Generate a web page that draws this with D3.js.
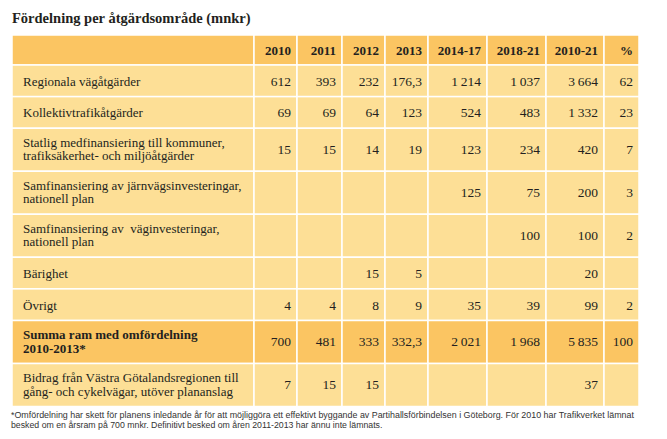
<!DOCTYPE html>
<html>
<head>
<meta charset="utf-8">
<script src="https://cdn.jsdelivr.net/npm/d3@7"></script>
<style>
  body { margin: 0; background: #fff; }
  svg { display: block; }
  .serif { font-family: "Liberation Serif", "DejaVu Serif", "Times New Roman", serif; }
  .note { font-family: "Liberation Sans Narrow", "Liberation Sans", sans-serif; }
</style>
</head>
<body>
<div id="table"></div>
<script>
// table content
var title = "Fördelning per åtgärdsområde (mnkr)";
var columns = ["2010", "2011", "2012", "2013", "2014-17", "2018-21", "2010-21", "%"];
var rowLabels = [
  ["Regionala vägåtgärder"],
  ["Kollektivtrafikåtgärder"],
  ["Statlig medfinansiering till kommuner,", "trafiksäkerhet- och miljöåtgärder"],
  ["Samfinansiering av järnvägsinvesteringar,", "nationell plan"],
  ["Samfinansiering av  väginvesteringar,", "nationell plan"],
  ["Bärighet"],
  ["Övrigt"],
  ["Summa ram med omfördelning", "2010-2013*"],
  ["Bidrag från Västra Götalandsregionen till", "gång- och cykelvägar, utöver plananslag"]
];
var regionalaVag    = [612, 393, 232, 176.3, 1214, 1037, 3664, 62];
var kollektivtrafik = [69, 69, 64, 123, 524, 483, 1332, 23];
var statligMedfin   = [15, 15, 14, 19, 123, 234, 420, 7];
var samfinJarnvag   = [null, null, null, null, 125, 75, 200, 3];
var samfinVag       = [null, null, null, null, null, 100, 100, 2];
var barighet        = [null, null, 15, 5, null, null, 20, null];
var ovrigt          = [4, 4, 8, 9, 35, 39, 99, 2];
var summa           = [700, 481, 333, 332.3, 2021, 1968, 5835, 100];
var bidragVGR       = [7, 15, 15, null, null, null, 37, null];
var footnote = [
  "*Omfördelning har skett för planens inledande år för att möjliggöra ett effektivt byggande av Partihallsförbindelsen i Göteborg. För 2010 har Trafikverket lämnat",
  "besked om en årsram på 700 mnkr. Definitivt besked om åren 2011-2013 har ännu inte lämnats."
];

var rowValues = [regionalaVag, kollektivtrafik, statligMedfin, samfinJarnvag,
                 samfinVag, barighet, ovrigt, summa, bidragVGR];
var totalRow = 7;

var svgWidth = 667;
var svgHeight = 439;

var headColor = "#fbc562";
var bodyColor = "#fddf96";
var ink = "#231f20";

// swedish number format: thin space thousands, comma decimal
var sv = d3.formatLocale({ decimal: ",", thousands: "\u2009", grouping: [3], currency: ["", " kr"] });
var fmtInt = sv.format(",d");
var fmtDec = sv.format(",.1f");
function fmt(v) {
  if (v == null) return "";
  return Number.isInteger(v) ? fmtInt(v) : fmtDec(v);
}

var svg = d3.select("#table")
  .append("svg")
  .attr("width", svgWidth)
  .attr("height", svgHeight);

// column edges (label column + 8 value columns)
var colEdges = [12, 254, 297, 342, 385, 428, 487, 546, 604, 639];
var xScale = d3.scaleLinear()
  .domain(d3.range(colEdges.length))
  .range(colEdges);

// row heights follow the number of text lines
var weights = rowLabels.map(d => d.length > 1 ? 1.36 : 1);
var cum = [0];
weights.forEach(function(w, i) { cum.push(cum[i] + w); });
var headerTop = 35, headerBottom = 65;
var yScale = d3.scaleLinear()
  .domain([0, cum[cum.length - 1]])
  .range([headerBottom, 406.5]);

// title
svg.append("text")
  .attr("class", "serif")
  .attr("x", 12)
  .attr("y", 23)
  .attr("font-weight", "bold")
  .attr("font-size", "14.5px")
  .attr("fill", ink)
  .text(title);

// header row
var header = svg.append("g");
header.selectAll("rect")
  .data(d3.range(colEdges.length - 1))
  .enter()
  .append("rect")
  .attr("x", i => xScale(i))
  .attr("y", headerTop)
  .attr("width", i => xScale(i + 1) - xScale(i))
  .attr("height", headerBottom - headerTop)
  .attr("fill", headColor)
  .attr("stroke", "#fff")
  .attr("stroke-width", 1.5);

header.selectAll("text")
  .data(columns)
  .enter()
  .append("text")
  .attr("class", "serif")
  .attr("x", (d, i) => xScale(i + 2) - 6)
  .attr("y", (headerTop + headerBottom) / 2 + 5)
  .attr("text-anchor", "end")
  .attr("font-weight", "bold")
  .attr("font-size", "13px")
  .attr("fill", ink)
  .text(d => d);

// body rows
var rows = svg.selectAll("g.row")
  .data(rowLabels)
  .enter()
  .append("g")
  .attr("class", "row");

rows.each(function(lines, r) {
  var g = d3.select(this);
  var y0 = yScale(cum[r]);
  var y1 = yScale(cum[r + 1]);
  var cy = (y0 + y1) / 2;
  var fill = r === totalRow ? headColor : bodyColor;

  g.selectAll("rect")
    .data(d3.range(colEdges.length - 1))
    .enter()
    .append("rect")
    .attr("x", i => xScale(i))
    .attr("y", y0)
    .attr("width", i => xScale(i + 1) - xScale(i))
    .attr("height", y1 - y0)
    .attr("fill", fill)
    .attr("stroke", "#fff")
    .attr("stroke-width", 1.5);

  var label = g.append("text")
    .attr("class", "serif")
    .attr("x", 23)
    .attr("font-weight", r === totalRow ? "bold" : "normal")
    .attr("font-size", "13px")
    .attr("fill", ink)
    .style("white-space", "pre");

  label.selectAll("tspan")
    .data(lines)
    .enter()
    .append("tspan")
    .attr("x", 23)
    .attr("y", (d, i) => lines.length > 1 ? cy - 3 + i * 13.6 : cy + 5)
    .text(d => d);

  g.selectAll("text.val")
    .data(rowValues[r])
    .enter()
    .append("text")
    .attr("class", "val serif")
    .attr("x", (d, i) => xScale(i + 2) - 6)
    .attr("y", lines.length > 1 ? cy + 4.5 : cy + 5)
    .attr("text-anchor", "end")
    .attr("font-size", "13.5px")
    .attr("fill", ink)
    .text(d => fmt(d));
});

// footnote, squeezed horizontally to the printed line widths
var noteWidths = [624, 372];
svg.append("g")
  .selectAll("text")
  .data(footnote)
  .enter()
  .append("text")
  .attr("class", "note")
  .attr("font-size", "9.5px")
  .attr("fill", "#333")
  .text(d => d)
  .attr("transform", function(d, i) {
    var k = Math.min(1, noteWidths[i] / this.getComputedTextLength());
    return `translate(11, ${417.5 + i * 10.5}) scale(${k}, 1)`;
  });
</script>
</body>
</html>
